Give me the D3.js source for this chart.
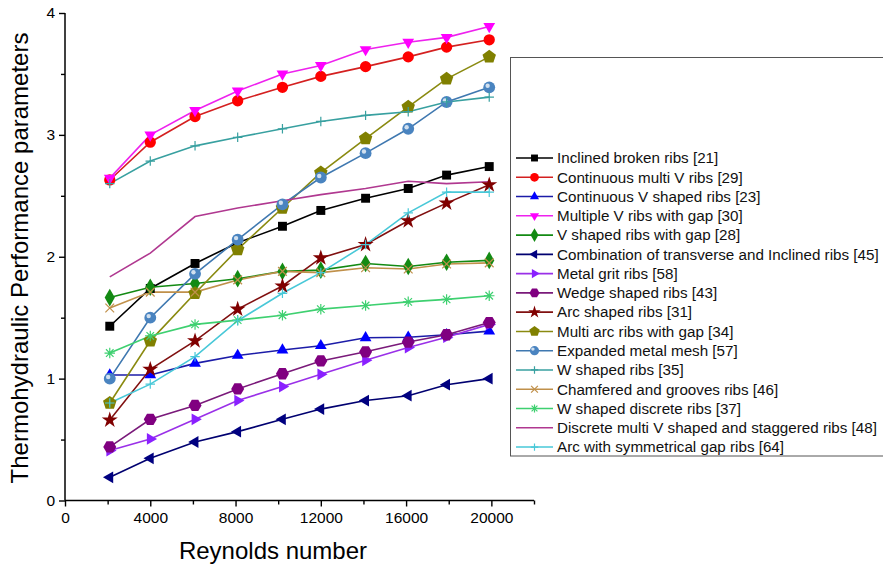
<!DOCTYPE html>
<html>
<head>
<meta charset="utf-8">
<script src="https://d3js.org/d3.v7.min.js"></script>
<style>
  body { margin: 0; background: #fff; }
  svg { font-family: "Liberation Sans", Arial, sans-serif; display: block; }
</style>
</head>
<body>
<svg id="chart" width="883" height="566"></svg>
<script>
// Reynolds numbers
const reynolds = [2100, 4000, 6100, 8100, 10200, 12000, 14100, 16100, 17900, 19900];

const seriesNames = [
  "Inclined broken ribs [21]",
  "Continuous multi V ribs [29]",
  "Continuous V shaped ribs [23]",
  "Multiple V ribs with gap [30]",
  "V shaped ribs with gap [28]",
  "Combination of transverse and Inclined ribs [45]",
  "Metal grit ribs [58]",
  "Wedge shaped ribs [43]",
  "Arc shaped ribs [31]",
  "Multi arc ribs with gap [34]",
  "Expanded metal mesh [57]",
  "W shaped ribs [35]",
  "Chamfered and grooves ribs [46]",
  "W shaped discrete ribs [37]",
  "Discrete multi V shaped and staggered ribs [48]",
  "Arc with symmetrical gap ribs [64]"
];

const inclinedBroken = [1.43, 1.74, 1.945, 2.115, 2.25, 2.38, 2.48, 2.56, 2.67, 2.74];
const continuousMultiV = [2.63, 2.94, 3.15, 3.28, 3.39, 3.48, 3.56, 3.64, 3.72, 3.78];
const continuousV = [1.03, 1.03, 1.125, 1.19, 1.235, 1.27, 1.335, 1.34, 1.36, 1.39];
const multipleVGap = [2.645, 3.0, 3.2, 3.36, 3.5, 3.57, 3.7, 3.76, 3.8, 3.89];
const vShapedGap = [1.665, 1.75, 1.78, 1.82, 1.88, 1.89, 1.945, 1.92, 1.955, 1.97];
const combination = [0.19, 0.346, 0.48, 0.565, 0.666, 0.75, 0.82, 0.86, 0.95, 1.0];
const metalGrit = [0.41, 0.505, 0.666, 0.82, 0.935, 1.035, 1.15, 1.255, 1.34, 1.445];
const wedge = [0.44, 0.666, 0.78, 0.915, 1.04, 1.145, 1.22, 1.3, 1.36, 1.46];
const arcShaped = [0.66, 1.076, 1.31, 1.57, 1.76, 1.99, 2.1, 2.295, 2.44, 2.59];
const multiArcGap = [0.8, 1.31, 1.7, 2.06, 2.4, 2.69, 2.97, 3.23, 3.46, 3.64];
const expandedMesh = [1.0, 1.5, 1.86, 2.14, 2.43, 2.65, 2.85, 3.05, 3.27, 3.39];
const wShaped = [2.6, 2.785, 2.91, 2.98, 3.05, 3.11, 3.16, 3.19, 3.27, 3.31];
const chamfered = [1.58, 1.71, 1.71, 1.81, 1.88, 1.87, 1.91, 1.9, 1.94, 1.95];
const wDiscrete = [1.21, 1.35, 1.445, 1.48, 1.52, 1.57, 1.6, 1.63, 1.65, 1.68];
const discreteMultiV = [1.835, 2.03, 2.33, 2.4, 2.46, 2.51, 2.56, 2.62, 2.6, 2.615];
const arcSymGap = [0.8, 0.955, 1.18, 1.475, 1.7, 1.87, 2.1, 2.36, 2.53, 2.53];

const seriesValues = [inclinedBroken, continuousMultiV, continuousV, multipleVGap, vShapedGap,
  combination, metalGrit, wedge, arcShaped, multiArcGap, expandedMesh, wShaped, chamfered,
  wDiscrete, discreteMultiV, arcSymGap];

const xTicks = [0, 4000, 8000, 12000, 16000, 20000];
const yTicks = [0, 1, 2, 3, 4];

// custom marker shapes
function poly(n, rot) {
  return {
    draw(ctx, size) {
      const r = Math.sqrt(size) * 0.62;
      for (let i = 0; i < n; i++) {
        const a = rot + i * 2 * Math.PI / n;
        const px = r * Math.cos(a), py = r * Math.sin(a);
        if (i === 0) ctx.moveTo(px, py); else ctx.lineTo(px, py);
      }
      ctx.closePath();
    }
  };
}
const triUp = poly(3, -Math.PI / 2);
const triDown = poly(3, Math.PI / 2);
const triLeft = poly(3, Math.PI);
const triRight = poly(3, 0);
const pentagon = poly(5, -Math.PI / 2);
const hexagon = poly(6, 0);
const plusSym = { draw(ctx, size) { const r = Math.sqrt(size) / 2; ctx.moveTo(-r, 0); ctx.lineTo(r, 0); ctx.moveTo(0, -r); ctx.lineTo(0, r); } };
const xSym = { draw(ctx, size) { const r = Math.sqrt(size) / 2.4; ctx.moveTo(-r, -r); ctx.lineTo(r, r); ctx.moveTo(-r, r); ctx.lineTo(r, -r); } };
const asterSym = { draw(ctx, size) { const r = Math.sqrt(size) / 2, q = r * 0.72; ctx.moveTo(-r, 0); ctx.lineTo(r, 0); ctx.moveTo(0, -r); ctx.lineTo(0, r); ctx.moveTo(-q, -q); ctx.lineTo(q, q); ctx.moveTo(-q, q); ctx.lineTo(q, -q); } };

const styles = [
  { line: "#000000", fill: "#000000", sym: d3.symbolSquare, size: 80 },
  { line: "#d42020", fill: "#ff0000", sym: d3.symbolCircle, size: 100 },
  { line: "#1c1ca8", fill: "#0000ff", sym: triUp, size: 120 },
  { line: "#ee22ee", fill: "#ff00ff", sym: triDown, size: 120 },
  { line: "#138a13", fill: "#138a13", sym: d3.symbolDiamond, size: 90 },
  { line: "#000070", fill: "#000080", sym: triLeft, size: 120 },
  { line: "#9a30e8", fill: "#8a20ff", sym: triRight, size: 120 },
  { line: "#7a1a7a", fill: "#800080", sym: hexagon, size: 110 },
  { line: "#801010", fill: "#800000", sym: d3.symbolStar, size: 80 },
  { line: "#8a8a10", fill: "#808000", sym: pentagon, size: 130 },
  { line: "#3f78b0", fill: "#4a84c0", sym: d3.symbolCircle, size: 110, shine: true },
  { line: "#38a0a0", fill: null, sym: plusSym, size: 90 },
  { line: "#c0904a", fill: null, sym: xSym, size: 110 },
  { line: "#3ed070", fill: null, sym: asterSym, size: 110 },
  { line: "#b03890", fill: null, sym: null, size: 0 },
  { line: "#48c8d8", fill: null, sym: plusSym, size: 90 }
];

const svg = d3.select("#chart");
const x = d3.scaleLinear().domain([0, 22000]).range([65, 534]);
const y = d3.scaleLinear().domain([0, 4]).range([500.5, 13]);

function drawMarker(g, st, px, py, scale) {
  if (!st.sym) return;
  const p = d3.symbol().type(st.sym).size(st.size * scale)();
  const m = g.append("path").attr("d", p).attr("transform", `translate(${px},${py})`);
  if (st.fill) m.attr("fill", st.fill).attr("stroke", "none");
  else m.attr("fill", "none").attr("stroke", st.line).attr("stroke-width", 1.2);
  if (st.shine) {
    g.append("circle").attr("cx", px - 1.6).attr("cy", py - 1.6).attr("r", 2.2 * Math.sqrt(scale))
      .attr("fill", "#ffffff").attr("opacity", 0.75);
  }
}

// axes
const xAxis = svg.append("g").attr("transform", `translate(0,${y(0)})`)
  .call(d3.axisBottom(x).tickValues(d3.range(0, 22001, 2000)).tickSize(6)
    .tickFormat(d => xTicks.includes(d) ? d : ""));
xAxis.select(".domain").attr("d", `M${x(0)},0H${x(22000)}`).attr("stroke-width", 1.5);
xAxis.selectAll(".tick line").attr("stroke-width", 1.4)
  .attr("y2", d => xTicks.includes(d) ? 6 : 4);
xAxis.selectAll("text").attr("font-size", 15.5).attr("font-family", "Liberation Sans, Arial").attr("dy", "0.85em");

const yAxis = svg.append("g").attr("transform", `translate(${x(0)},0)`)
  .call(d3.axisLeft(y).tickValues(d3.range(0, 4.01, 0.5)).tickSize(6)
    .tickFormat(d => yTicks.includes(d) ? d : ""));
yAxis.select(".domain").attr("d", `M0,${y(0)}V${y(4)}`).attr("stroke-width", 1.5);
yAxis.selectAll(".tick line").attr("stroke-width", 1.4)
  .attr("x2", d => yTicks.includes(d) ? -6 : -4);
yAxis.selectAll("text").attr("font-size", 15.5).attr("font-family", "Liberation Sans, Arial").attr("x", -10);

svg.append("text").attr("x", 273).attr("y", 559).attr("text-anchor", "middle")
  .attr("font-size", 24).text("Reynolds number");
svg.append("text").attr("transform", "translate(28,258) rotate(-90)").attr("text-anchor", "middle")
  .attr("font-size", 24).text("Thermohydraulic Performance parameters");

// series
const line = d3.line().x((d, i) => x(reynolds[i])).y(d => y(d));
const plot = svg.append("g");
seriesValues.forEach((vals, k) => {
  const st = styles[k];
  plot.append("path").datum(vals).attr("d", line).attr("fill", "none")
    .attr("stroke", st.line).attr("stroke-width", 1.6);
});
seriesValues.forEach((vals, k) => {
  const st = styles[k];
  const g = plot.append("g");
  vals.forEach((v, i) => drawMarker(g, st, x(reynolds[i]), y(v), 1));
});

// legend
const legend = svg.append("g");
legend.append("rect").attr("x", 510.5).attr("y", 57.5).attr("width", 400).attr("height", 398.5)
  .attr("fill", "#fff").attr("stroke", "#555").attr("stroke-width", 1);
seriesNames.forEach((name, k) => {
  const st = styles[k];
  const ly = 158 + k * 19.27;
  const g = legend.append("g");
  g.append("line").attr("x1", 516).attr("x2", 553).attr("y1", ly).attr("y2", ly)
    .attr("stroke", st.line).attr("stroke-width", 1.6);
  drawMarker(g, st, 534.5, ly, 0.6);
  g.append("text").attr("x", 557).attr("y", ly).attr("dy", "0.35em")
    .attr("font-size", 15.2).attr("fill", "#111").text(name);
});
</script>
</body>
</html>
